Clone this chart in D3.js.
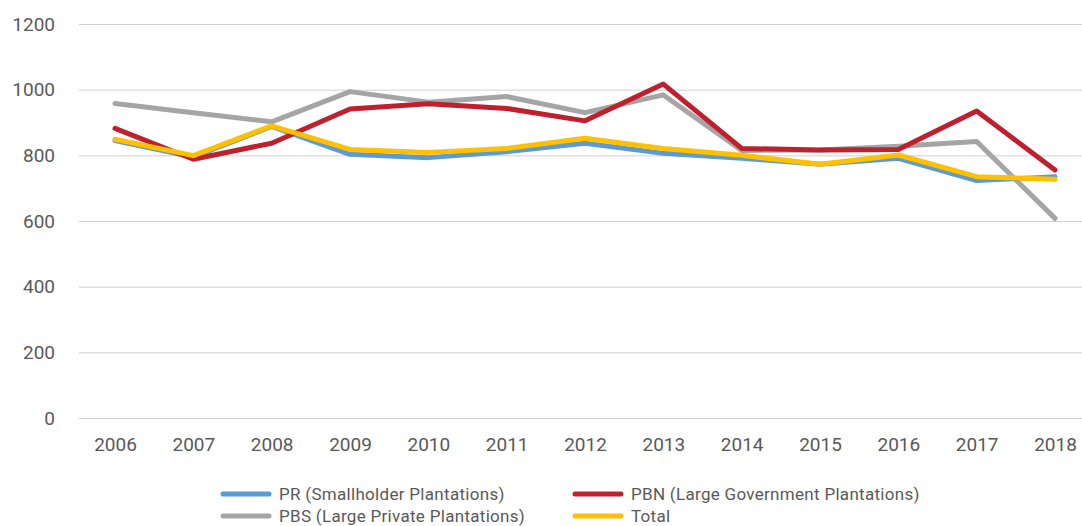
<!DOCTYPE html>
<html>
<head>
<meta charset="utf-8">
<script src="https://cdn.jsdelivr.net/npm/d3@7"></script>
<style>
    body { margin: 0; background: #fff; }
    svg text { font-family: Roboto, "Noto Sans", sans-serif; fill: #595959; }
</style>
</head>
<body>
<div id="chart"></div>
<script>
var years = ["2006", "2007", "2008", "2009", "2010", "2011", "2012", "2013", "2014", "2015", "2016", "2017", "2018"];
var yTicks = [0, 200, 400, 600, 800, 1000, 1200];

var prValues    = [845, 795, 888, 803, 793, 811, 837, 806, 791, 773, 791, 723, 735];
var pbnValues   = [882, 788, 837, 941, 957, 943, 905, 1017, 821, 816, 818, 935, 755];
var pbsValues   = [958, 930, 902, 994, 962, 979, 930, 984, 815, 816, 828, 842, 608];
var totalValues = [849, 799, 890, 818, 809, 821, 852, 821, 800, 773, 801, 735, 727];

var seriesNames = ["PR (Smallholder Plantations)", "PBN (Large Government Plantations)",
                   "PBS (Large Private Plantations)", "Total"];
var seriesColors = ["#5b9bd5", "#c0202e", "#a5a5a5", "#ffc000"];

var width = 1082, height = 526;

var svg = d3.select("#chart").append("svg")
    .attr("width", width)
    .attr("height", height);

var x = d3.scalePoint().domain(years).range([115, 1055]);
var y = d3.scaleLinear().domain([0, 1200]).range([418, 24]);

// gridlines + y labels
var yAxis = svg.append("g")
    .attr("transform", "translate(79,0)")
    .call(d3.axisLeft(y).tickValues(yTicks).tickFormat(d3.format("d"))
        .tickSize(-(width - 79)).tickPadding(24));
yAxis.select(".domain").remove();
yAxis.selectAll(".tick line").attr("stroke", "#d0d0d0").attr("stroke-width", 1);
yAxis.selectAll(".tick text").style("font-size", "19px").attr("fill", "#595959");

// x labels
var xAxis = svg.append("g")
    .attr("transform", "translate(0,418)")
    .call(d3.axisBottom(x).tickSize(0).tickPadding(20));
xAxis.select(".domain").remove();
xAxis.selectAll(".tick text").style("font-size", "19px").attr("fill", "#595959");

var line = d3.line()
    .x(function (d, i) { return x(years[i]); })
    .y(function (d) { return y(d); });

// draw order: gray under, then blue, red, yellow on top
var drawOrder = [2, 0, 1, 3];
var allSeries = [prValues, pbnValues, pbsValues, totalValues];

drawOrder.forEach(function (k) {
    svg.append("path")
        .datum(allSeries[k])
        .attr("fill", "none")
        .attr("stroke", seriesColors[k])
        .attr("stroke-width", 5)
        .attr("stroke-linejoin", "round")
        .attr("stroke-linecap", "round")
        .attr("d", line);
});

// legend, 2 x 2
var legendPos = [[221, 494], [573, 494], [221, 516], [573, 516]];
seriesNames.forEach(function (name, i) {
    var g = svg.append("g").attr("transform", "translate(" + legendPos[i][0] + "," + legendPos[i][1] + ")");
    g.append("line")
        .attr("x1", 2).attr("x2", 48)
        .attr("stroke", seriesColors[i])
        .attr("stroke-width", 5)
        .attr("stroke-linecap", "round");
    g.append("text")
        .attr("x", 58)
        .attr("dy", "0.35em")
        .style("font-size", "17px")
        .style("letter-spacing", "0.3px")
        .text(name);
});
</script>
</body>
</html>
